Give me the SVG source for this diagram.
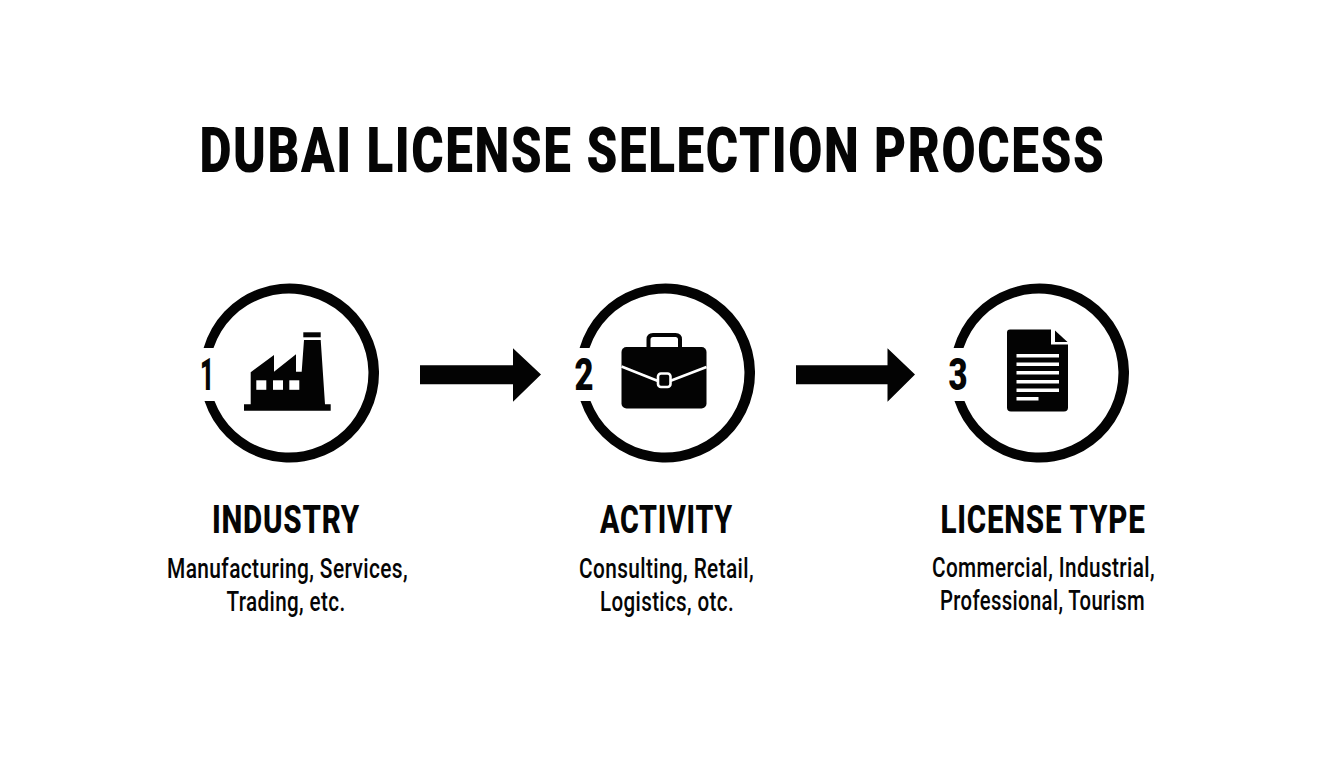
<svg xmlns="http://www.w3.org/2000/svg" width="1344" height="768" viewBox="0 0 1344 768">
<style>
text{font-family:Roboto,"Liberation Sans",sans-serif;fill:#050505;text-anchor:middle}
.t{font-size:63px;font-weight:900;letter-spacing:2px}
.h{font-size:39px;font-weight:800;letter-spacing:1px}
.s{font-size:27px;font-weight:500;letter-spacing:.5px}
.n{font-size:45px;font-weight:900}
.k{fill:#030303}
.w{fill:none;stroke:#fff;stroke-width:2.6}
</style>
<rect width="1344" height="768" fill="#fff"/>
<text id="title" class="t" x="652.5" y="171.500" textLength="906" lengthAdjust="spacingAndGlyphs">DUBAI LICENSE SELECTION PROCESS</text>
<g id="node1">
<path class="k" d="M203.600 348A89.500 89.500 0 1 1 204.500 401H214.500A79.500 79.500 0 1 0 213.500 348Z"/>
<text class="n" x="207" y="390" textLength="14" lengthAdjust="spacingAndGlyphs">1</text>
<path class="k" d="M244 404.300H250.700V372.300L274 355V371.700L296 354.300V371.700H301.700L304 340H320.700L325 404.300H330.700V410.700H244Z"/>
<rect class="k" x="303.300" y="332.300" width="17.400" height="5"/>
<rect x="256.300" y="380.300" width="10" height="9.500" fill="#fff"/>
<rect x="273" y="380.300" width="10" height="9.500" fill="#fff"/>
<rect x="289.300" y="380.300" width="10" height="9.500" fill="#fff"/>
<text class="h" x="286" y="533" textLength="148" lengthAdjust="spacingAndGlyphs">INDUSTRY</text>
<text class="s" x="287.500" y="578" textLength="241" lengthAdjust="spacingAndGlyphs">Manufacturing, Services,</text>
<text class="s" x="286" y="611" textLength="119" lengthAdjust="spacingAndGlyphs">Trading, etc.</text>
</g>
<g id="node2">
<path class="k" d="M579.600 348A89.500 89.500 0 1 1 580.500 401H590.500A79.500 79.500 0 1 0 589.500 348Z"/>
<text class="n" x="584" y="390" textLength="19" lengthAdjust="spacingAndGlyphs">2</text>
<path d="M648.500 347V339.500Q648.500 335 653 335H675.500Q680 335 680 339.500V347" fill="none" stroke="#030303" stroke-width="4"/>
<rect class="k" x="621.500" y="347" width="85" height="61.500" rx="5"/>
<path class="w" d="M621.500 366.500L658 381M670 381L706.500 367"/>
<rect x="658" y="373.500" width="12.500" height="13.500" rx="3" fill="#030303" stroke="#fff" stroke-width="2.600"/>
<text class="h" x="666.500" y="533" textLength="133" lengthAdjust="spacingAndGlyphs">ACTIVITY</text>
<text class="s" x="666.500" y="578" textLength="175" lengthAdjust="spacingAndGlyphs">Consulting, Retail,</text>
<text class="s" x="667" y="611" textLength="134" lengthAdjust="spacingAndGlyphs">Logistics, otc.</text>
</g>
<g id="node3">
<path class="k" d="M953.600 348A89.500 89.500 0 1 1 954.500 401H964.500A79.500 79.500 0 1 0 963.500 348Z"/>
<text class="n" x="958" y="390" textLength="19" lengthAdjust="spacingAndGlyphs">3</text>
<path class="k" d="M1010 329.500H1051V344.500H1068V407.500Q1068 411.500 1064 411.500H1011Q1007 411.500 1007 407.500V332.500Q1007 329.500 1010 329.500Z"/>
<path class="k" d="M1055 330.500L1067.500 342H1055Z"/>
<g fill="#fff">
<rect x="1016.500" y="354" width="42.500" height="3.500"/>
<rect x="1016.500" y="362.500" width="42.500" height="3.500"/>
<rect x="1016.500" y="371" width="42.500" height="3.500"/>
<rect x="1016.500" y="380" width="42.500" height="3.500"/>
<rect x="1016.500" y="388.500" width="42.500" height="3.500"/>
<rect x="1016.500" y="397" width="22" height="3.500"/>
</g>
<text class="h" x="1043" y="533" textLength="205" lengthAdjust="spacingAndGlyphs">LICENSE TYPE</text>
<text class="s" x="1043.500" y="577" textLength="223" lengthAdjust="spacingAndGlyphs">Commercial, Industrial,</text>
<text class="s" x="1042.500" y="610" textLength="205" lengthAdjust="spacingAndGlyphs">Professional, Tourism</text>
</g>
<g id="connectors">
<path id="c1" class="k" d="M420 365.300H513V348.300L541 374.500L513 401.700V384.300H420Z"/>
<path id="c2" class="k" d="M796 365.300H887.500V348.300L915 374.500L887.500 401.700V384.300H796Z"/>
</g>
</svg>
